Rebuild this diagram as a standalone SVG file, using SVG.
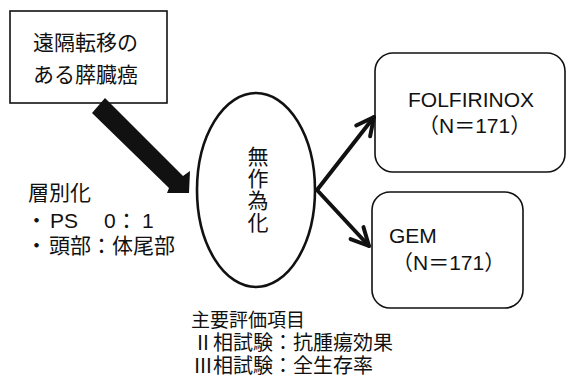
<svg xmlns="http://www.w3.org/2000/svg" width="567" height="383" viewBox="0 0 567 383">
<style>
.t{font-family:"Liberation Sans","Noto Sans CJK JP",sans-serif;font-size:21px;fill:#111}
.j{font-family:"Noto Sans CJK JP",sans-serif;font-size:21px;fill:#111}
.e{font-family:"Liberation Sans","Noto Sans CJK JP",sans-serif;font-size:20px;fill:#111}
.box{fill:#fff;stroke:#111;stroke-width:1.6}
.con{stroke:#111;stroke-width:4;fill:none;stroke-linecap:round}
</style>
<defs>
<marker id="ah" viewBox="0 0 10 10" refX="9" refY="5" markerWidth="22" markerHeight="22" markerUnits="userSpaceOnUse" orient="auto">
<path d="M1,1 L9,5 L1,9" fill="none" stroke="#111" stroke-width="1.8" stroke-linecap="round" stroke-linejoin="round"/>
</marker>
</defs>
<rect width="567" height="383" fill="#fff"/>
<g id="source">
<rect class="box" x="10" y="11" width="157" height="92"/>
<text class="j" x="33" y="50">遠隔転移の</text>
<text class="j" x="33" y="82">ある膵臓癌</text>
</g>
<g id="randomize">
<ellipse cx="256" cy="190" rx="59" ry="97" fill="#fff" stroke="#111" stroke-width="2.6"/>
<text class="j" x="258" y="146" style="writing-mode:vertical-rl;letter-spacing:1px">無作為化</text>
</g>
<g id="folfirinox">
<rect class="box" x="375" y="53" width="190" height="119" rx="18"/>
<text class="t" x="408" y="107">FOLFIRINOX</text>
<text class="t" x="418" y="133">（N＝171）</text>
</g>
<g id="gem">
<rect class="box" x="372" y="192" width="151" height="116" rx="18"/>
<text class="t" x="389" y="243">GEM</text>
<text class="t" x="392" y="270">（N＝171）</text>
</g>
<g id="connectors">
<polygon points="105,98 92,113 169,188 167,193 189,193 190,171 183,176" fill="#111"/>
<line class="con" x1="317" y1="190" x2="374" y2="117" marker-end="url(#ah)"/>
<line class="con" x1="317" y1="190" x2="369" y2="246" marker-end="url(#ah)"/>
</g>
<g id="strat">
<text class="t" x="28" y="200">層別化</text>
<text class="t" y="228"><tspan x="26">・</tspan><tspan x="50">PS</tspan><tspan x="104">0</tspan><tspan x="116">：</tspan><tspan x="142">1</tspan></text>
<text class="t" y="253"><tspan x="26">・</tspan><tspan x="49">頭部：体尾部</tspan></text>
</g>
<g id="endpoints">
<text class="e" x="191" y="327" style="font-size:19px">主要評価項目</text>
<text class="e" x="193" y="350">Ⅱ相試験：抗腫瘍効果</text>
<text class="e" x="193" y="373">Ⅲ相試験：全生存率</text>
</g>
</svg>
